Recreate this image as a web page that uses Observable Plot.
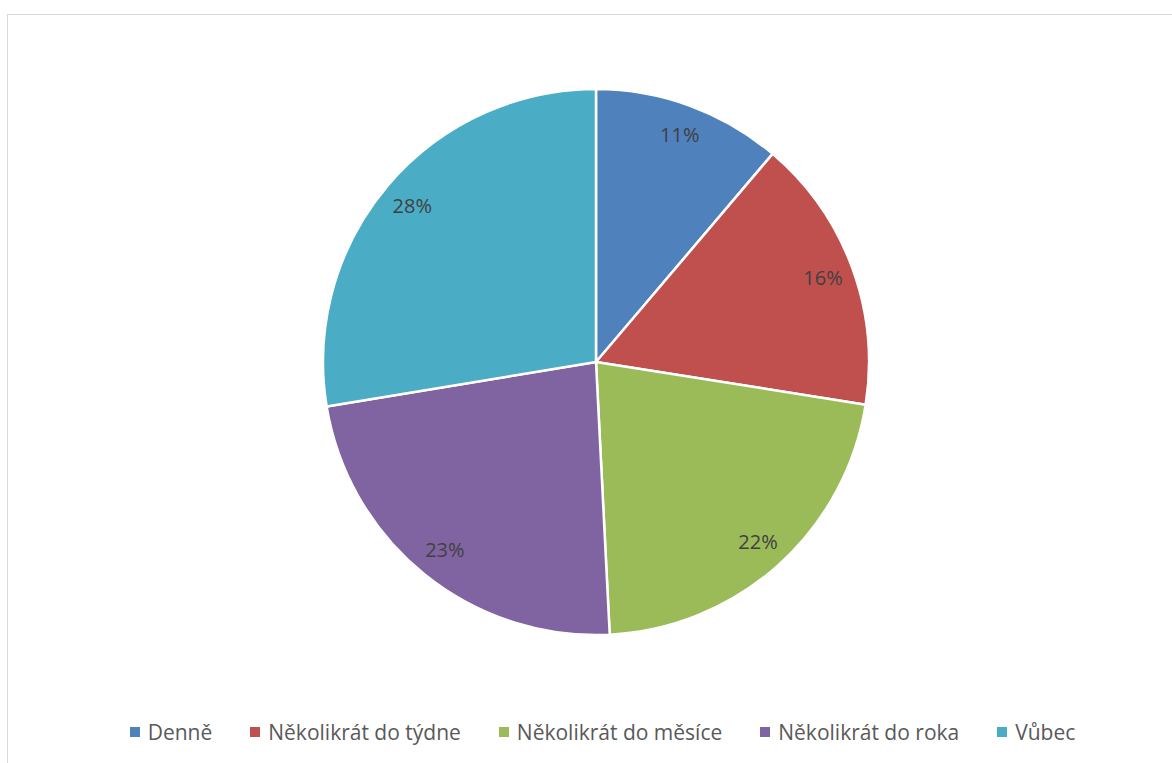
<!DOCTYPE html>
<html>
<head>
<meta charset="utf-8">
<script src="https://cdn.jsdelivr.net/npm/d3@7"></script>
<script src="https://cdn.jsdelivr.net/npm/@observablehq/plot@0.6"></script>
<style>
  html, body { margin: 0; padding: 0; background: #fff; }
  #wrap { position: relative; width: 1172px; height: 763px; overflow: hidden; font-family: "Open Sans", sans-serif; }
  #frame { position: absolute; left: 7px; top: 14px; width: 1200px; height: 800px; border-left: 1.5px solid #d9d9d9; border-top: 1.5px solid #d9d9d9; box-sizing: border-box; }
  #chart { position: absolute; left: 0; top: 0; }
  #legend { position: absolute; left: 0; top: 717px; width: 1172px; display: flex; justify-content: center; padding-left: 33px; box-sizing: border-box; gap: 38px; font-size: 21px; line-height: 30px; color: #595959; }
  .item { display: flex; align-items: center; white-space: nowrap; }
  .sw { width: 10px; height: 10px; margin-right: 8px; }
</style>
</head>
<body>
<div id="wrap">
  <div id="frame"></div>
  <div id="chart"></div>
  <div id="legend"></div>
</div>
<script>
const categories = ["Denně", "Několikrát do týdne", "Několikrát do měsíce", "Několikrát do roka", "Vůbec"];
const values = [11.2, 16.3, 21.7, 23.2, 27.6];
const labels = ["11%", "16%", "22%", "23%", "28%"];
const colors = ["#4F81BD", "#C0504D", "#9BBB59", "#8064A2", "#4BACC6"];

const slices = categories.map((c, i) => ({category: c, value: values[i], label: labels[i]}));
const arcs = d3.pie().sort(null).value(d => d.value)(slices);
arcs.forEach(a => {
  a.data.mid = (a.startAngle + a.endAngle) / 2;
});
const labelR = 0.885;

const plot = Plot.plot({
  width: 1172,
  height: 700,
  marginLeft: 323,
  marginRight: 303,
  marginTop: 89,
  marginBottom: 65,
  x: {domain: [-1, 1], axis: null},
  y: {domain: [-1, 1], axis: null},
  color: {domain: categories, range: colors},
  style: {fontFamily: "Open Sans, sans-serif", background: "transparent"},
  marks: [
    Plot.dot(arcs, {
      x: () => 0,
      y: () => 0,
      fill: d => d.data.category,
      render(index, scales, vals, dimensions, context) {
        const cx = scales.x(0), cy = scales.y(0);
        const r = scales.x(1) - scales.x(0);
        const arcGen = d3.arc().innerRadius(0).outerRadius(r);
        const g = d3.create("svg:g").attr("transform", `translate(${cx},${cy})`);
        g.selectAll("path")
          .data(Array.from(index))
          .join("path")
          .attr("d", i => arcGen(arcs[i]))
          .attr("fill", i => vals.fill[i])
          .attr("stroke", "#ffffff")
          .attr("stroke-width", 2.5)
          .attr("stroke-linejoin", "round");
        return g.node();
      }
    }),
    Plot.text(arcs, {
      x: d => Math.sin(d.data.mid) * labelR,
      y: d => Math.cos(d.data.mid) * labelR,
      text: d => d.data.label,
      fill: "#404040",
      fontSize: 20
    })
  ]
});
document.getElementById("chart").appendChild(plot);

const legend = d3.select("#legend");
const items = legend.selectAll(".item").data(categories).join("div").attr("class", "item");
items.append("div").attr("class", "sw").style("background", (d, i) => colors[i]);
items.append("span").text(d => d);
</script>
</body>
</html>
